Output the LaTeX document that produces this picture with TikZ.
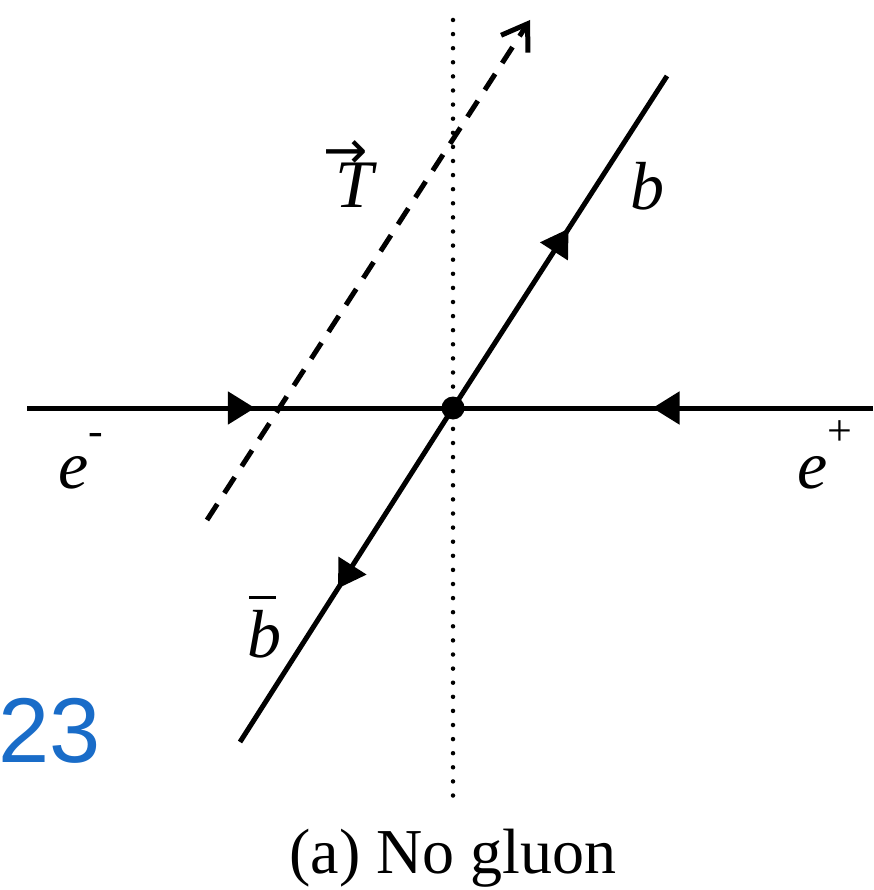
\documentclass[tikz,border=0pt]{standalone}
\usepackage{fontspec}
\setmainfont{Liberation Serif}
\newfontfamily\numfont{Liberation Sans}
\newfontfamily\symfont{DejaVu Sans}
\usetikzlibrary{arrows.meta,decorations.markings}
\definecolor{numblue}{RGB}{25,108,200}
\begin{document}
\begin{tikzpicture}[x=1pt,y=-1pt,
  line/.style={line width=5pt},
  fermion/.style={line, postaction={decorate},
    decoration={markings, mark=at position #1 with {\arrow{Triangle[length=27pt,width=32pt]}}}},
  lbl/.style={anchor=base west, inner sep=0pt, font=\fontsize{68}{70}\selectfont\itshape},
  ]
\useasboundingbox (0,0) rectangle (873,890);
% coordinates
\coordinate (eL) at (27,408);
\coordinate (eR) at (873,408);
\coordinate (bT) at (667,76);
\coordinate (bB) at (240,742);
\coordinate (axT) at (453,20);
\coordinate (axB) at (453,798);
\coordinate (tS) at (207,520);
\coordinate (tE) at (530,20);
% dotted axis
\draw[line width=4.5pt, line cap=round, dash pattern=on 0pt off 14.1pt] (axT) -- (axB);
% vertex
\node[circle, fill, inner sep=0pt, minimum size=23pt] (v) at (453,408) {};
% thrust axis
\draw[line width=5pt, dash pattern=on 19pt off 13pt, -{Straight Barb[length=24pt,width=32pt,line width=5pt]}] (tS) -- (tE);
% fermion lines
\draw[fermion=0.535] (eL) -- (v.center);
\draw[fermion=0.525] (eR) -- (v.center);
\draw[fermion=0.54] (v.center) -- (bT);
\draw[fermion=0.54] (v.center) -- (bB);
% labels
\node[lbl] (lb) at (630,210) {b};
\node[lbl] (lem) at (58,488) {e\raisebox{0.62em}{\fontsize{44}{44}\selectfont\upshape -}};
\node[lbl] (lep) at (797,488) {e\raisebox{0.62em}{\fontsize{44}{44}\selectfont\upshape +}};
\node[lbl] (lbb) at (247,657) {\makebox[0pt][l]{\hspace{2pt}\raisebox{58pt}{\rule{27pt}{3pt}}}b};
\node[lbl] (lT) at (335,208) {\makebox[0pt][l]{\hspace{-12pt}\raisebox{39pt}{\symfont\upshape\fontsize{53}{53}\selectfont →}}T};
\node[anchor=base west, inner sep=0pt, text=numblue, font=\numfont\fontsize{92}{94}\selectfont] (num) at (-2,762) {23};
\node[anchor=base, inner sep=0pt, font=\fontsize{64}{66}\selectfont] (cap) at (453,873) {(a) No gluon};
\end{tikzpicture}
\end{document}
